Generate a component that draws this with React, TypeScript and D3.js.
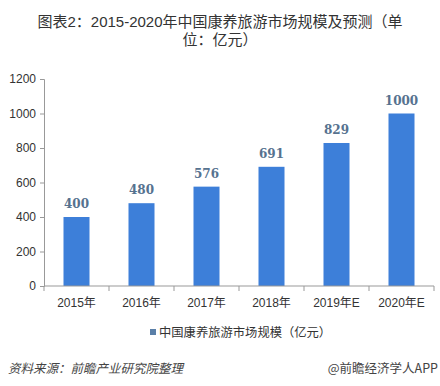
import React, { useRef, useEffect } from 'react';
import * as d3 from 'd3';

const categories = ['2015年', '2016年', '2017年', '2018年', '2019年E', '2020年E'];
const values = [400, 480, 576, 691, 829, 1000];
const yTicks = [0, 200, 400, 600, 800, 1000, 1200];

const titleLines = ['图表2：2015-2020年中国康养旅游市场规模及预测（单', '位：亿元）'];
const legendLabel = '中国康养旅游市场规模（亿元）';
const sourceLabel = '资料来源：前瞻产业研究院整理';
const brandLabel = '@前瞻经济学人APP';

export default function App() {
  const ref = useRef<SVGSVGElement>(null);

  useEffect(() => {
    const width = 440;
    const height = 386;
    const margin = { top: 79, right: 6, bottom: 100, left: 44 };
    const svg = d3.select(ref.current);
    svg.selectAll('*').remove();

    svg.append('rect').attr('width', width).attr('height', height).attr('fill', '#fff');

    // title, wrapped over two lines
    svg.append('g')
      .selectAll('text')
      .data(titleLines)
      .enter().append('text')
      .attr('x', 220)
      .attr('y', (d, i) => 27 + i * 17.5)
      .attr('text-anchor', 'middle')
      .attr('font-family', '"Liberation Sans", "Noto Sans CJK SC", sans-serif')
      .attr('font-size', 15)
      .attr('fill', '#333')
      .text(d => d);

    const x = d3.scaleBand()
      .domain(categories)
      .range([margin.left, width - margin.right])
      .padding(0);

    const y = d3.scaleLinear()
      .domain([0, 1200])
      .range([height - margin.bottom, margin.top]);

    const barW = x.bandwidth() * 0.4;

    // bars
    svg.append('g')
      .selectAll('rect')
      .data(values)
      .enter().append('rect')
      .attr('x', (d, i) => x(categories[i])! + (x.bandwidth() - barW) / 2)
      .attr('y', d => y(d))
      .attr('width', barW)
      .attr('height', d => y(0) - y(d))
      .attr('fill', '#3d7fd9');

    // value labels
    svg.append('g')
      .selectAll('text')
      .data(values)
      .enter().append('text')
      .attr('x', (d, i) => x(categories[i])! + x.bandwidth() / 2)
      .attr('y', d => y(d) - 9)
      .attr('text-anchor', 'middle')
      .attr('font-family', '"DejaVu Serif", serif')
      .attr('font-weight', 'bold')
      .attr('font-size', 12)
      .attr('fill', '#56728f')
      .text(d => d);

    // y axis
    const yAxis = svg.append('g')
      .attr('transform', `translate(${margin.left},0)`)
      .call(d3.axisLeft(y).tickValues(yTicks).tickFormat(d3.format('d')).tickSize(4).tickPadding(4));
    yAxis.select('.domain').attr('stroke', '#999');
    yAxis.selectAll('line').attr('stroke', '#999');
    yAxis.selectAll('text')
      .attr('font-family', '"Liberation Sans", sans-serif')
      .attr('font-size', 12)
      .attr('fill', '#333');

    // x axis
    const xAxis = svg.append('g')
      .attr('transform', `translate(0,${y(0)})`);
    xAxis.append('line')
      .attr('x1', margin.left).attr('x2', width - margin.right)
      .attr('stroke', '#999');
    xAxis.selectAll('.tk')
      .data([...categories.map(c => x(c)!), width - margin.right])
      .enter().append('line')
      .attr('x1', d => d).attr('x2', d => d)
      .attr('y1', 0).attr('y2', 5)
      .attr('stroke', '#999');
    xAxis.selectAll('text')
      .data(categories)
      .enter().append('text')
      .attr('x', d => x(d)! + x.bandwidth() / 2)
      .attr('y', 21)
      .attr('text-anchor', 'middle')
      .attr('font-family', '"Liberation Sans", "Noto Sans CJK SC", sans-serif')
      .attr('font-size', 12)
      .attr('fill', '#333')
      .text(d => d);

    // legend
    const legend = svg.append('g').attr('transform', 'translate(150,333)');
    legend.append('rect')
      .attr('x', 0).attr('y', -4)
      .attr('width', 6).attr('height', 6)
      .attr('fill', '#5a7fa8');
    legend.append('text')
      .attr('x', 9).attr('y', 4)
      .attr('font-family', '"Noto Sans CJK SC", sans-serif')
      .attr('font-size', 12.3)
      .attr('fill', '#333')
      .text(legendLabel);

    // footer
    svg.append('text')
      .attr('x', 8).attr('y', 373)
      .attr('font-family', '"Noto Sans CJK SC", sans-serif')
      .attr('font-style', 'italic')
      .attr('font-size', 12.5)
      .attr('fill', '#444')
      .text(sourceLabel);
    svg.append('text')
      .attr('x', 438).attr('y', 373)
      .attr('text-anchor', 'end')
      .attr('font-family', '"Noto Sans CJK SC", sans-serif')
      .attr('font-size', 12.5)
      .attr('fill', '#444')
      .text(brandLabel);
  }, []);

  return (
    <svg
      ref={ref}
      width={440}
      height={386}
      style={{ position: 'absolute', left: 0, top: 0, display: 'block' }}
    />
  );
}
